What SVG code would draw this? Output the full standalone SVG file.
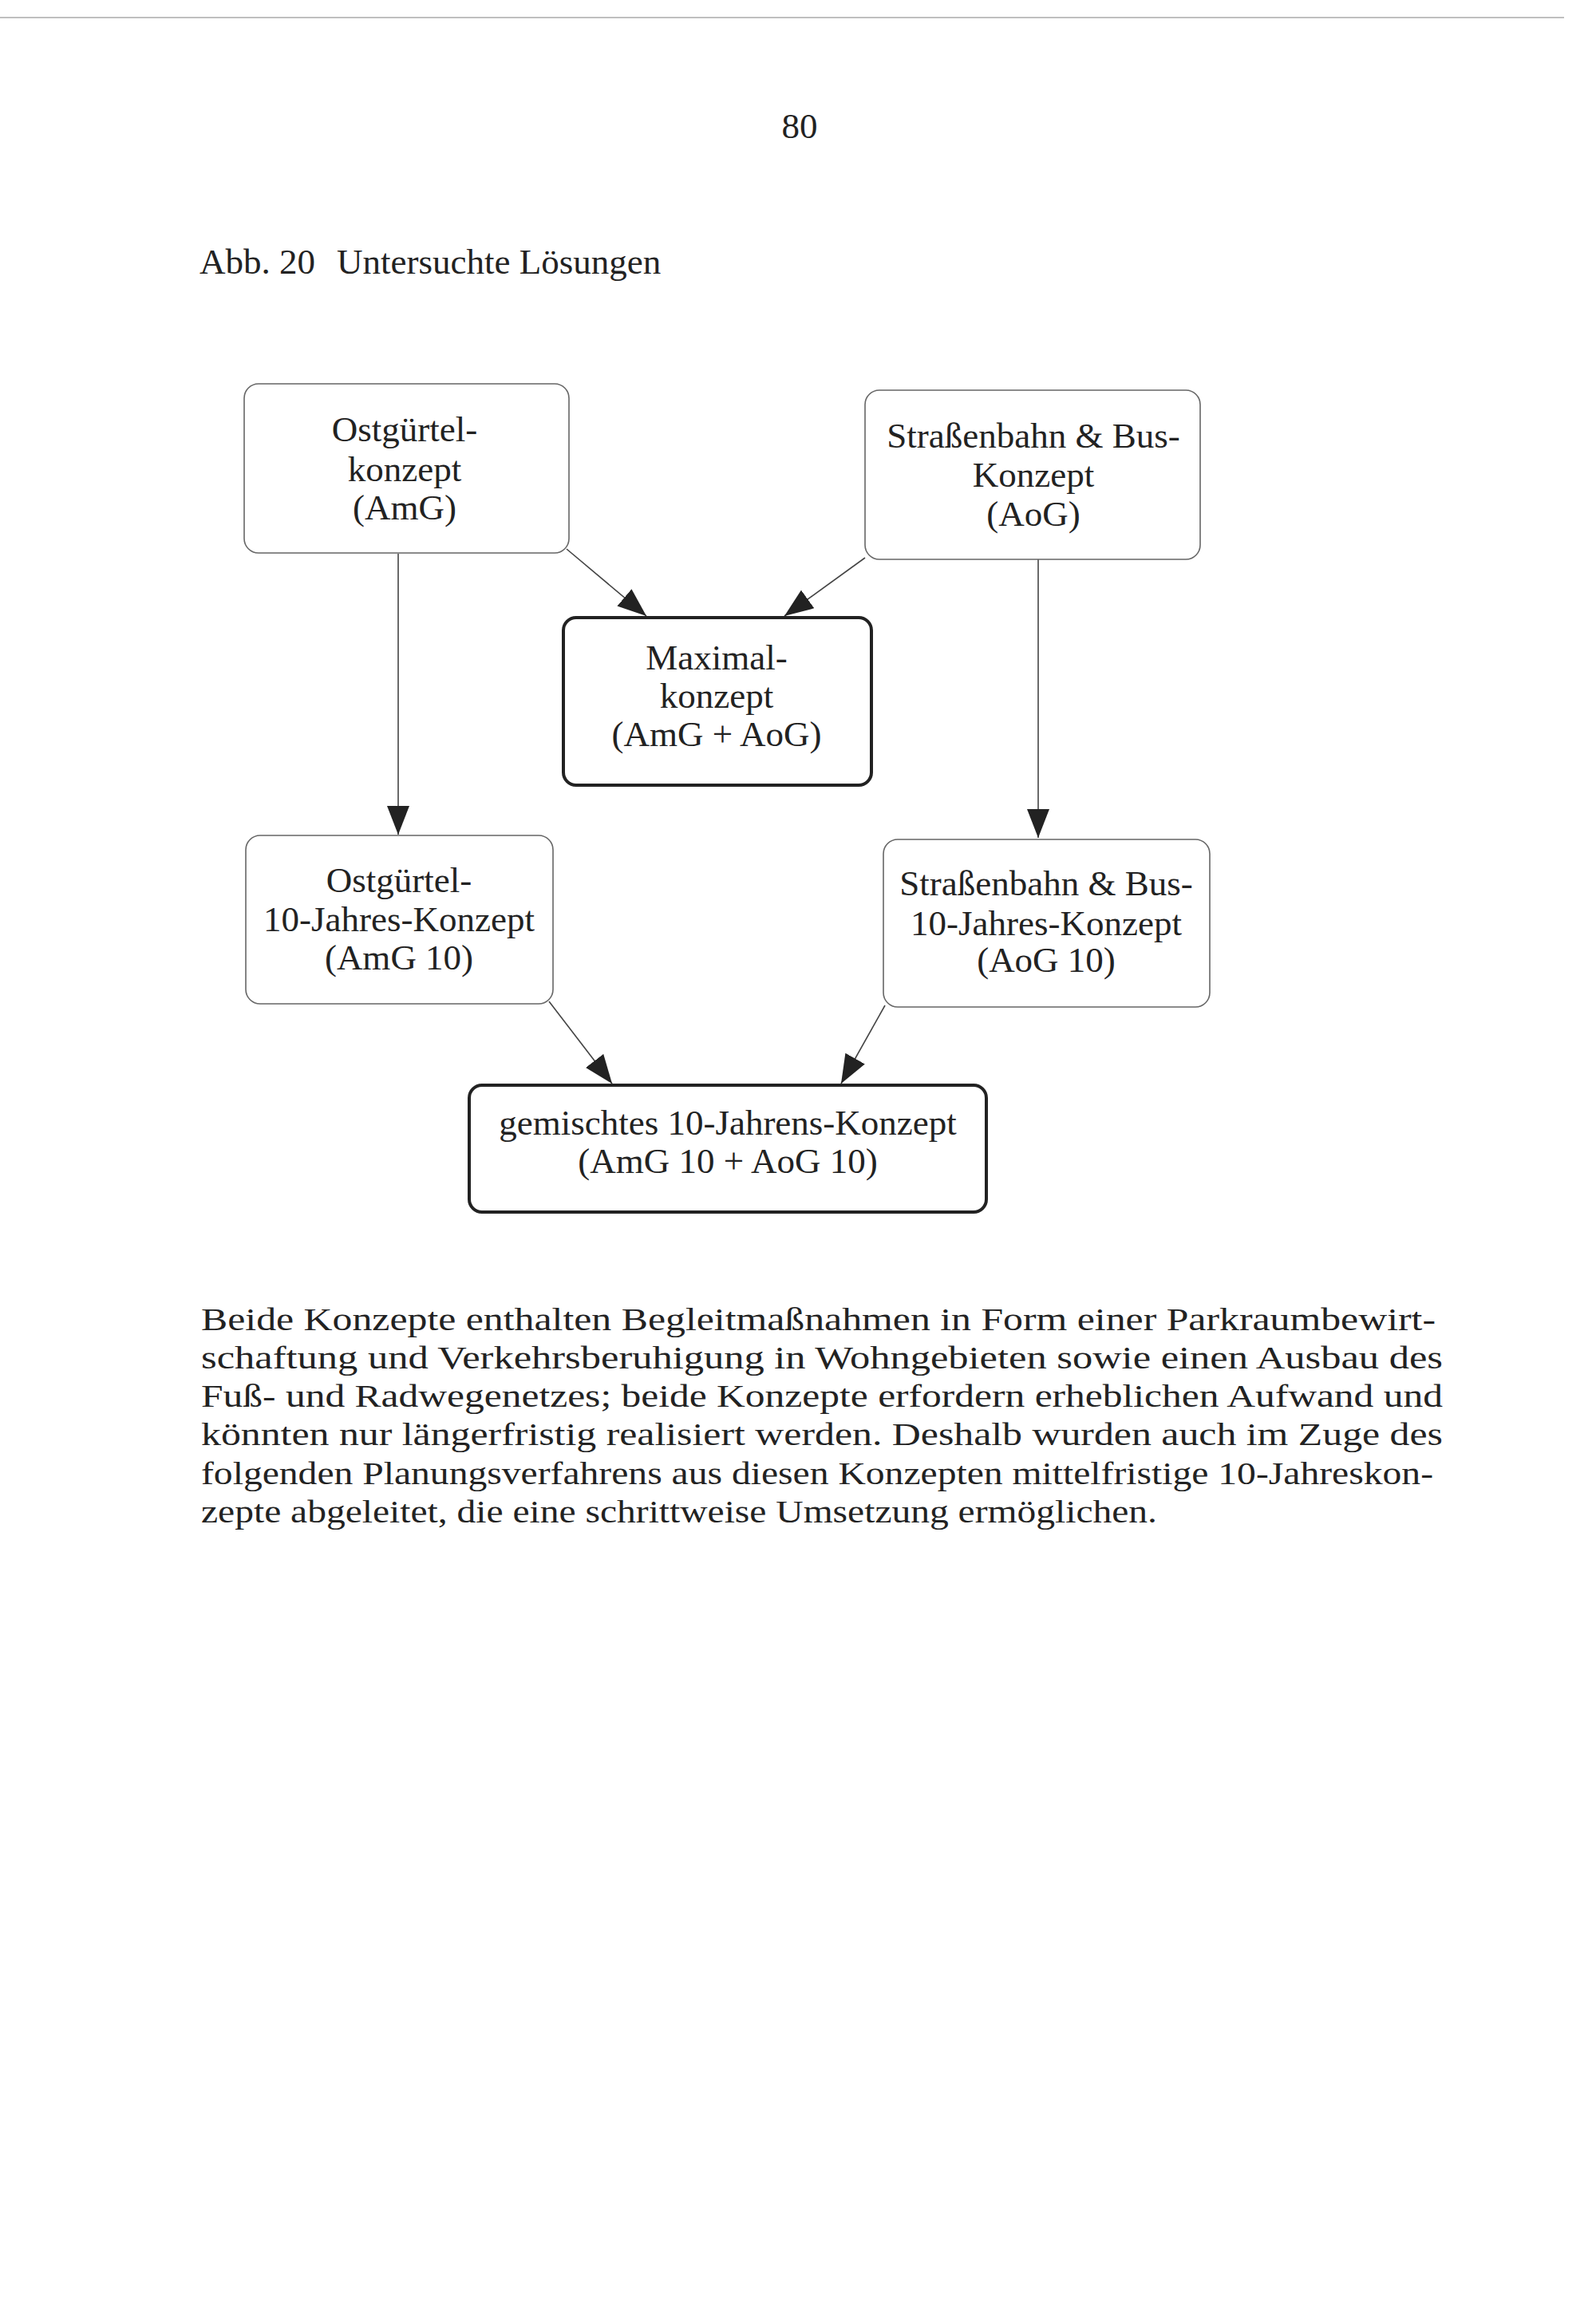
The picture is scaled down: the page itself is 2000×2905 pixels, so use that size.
<svg xmlns="http://www.w3.org/2000/svg" width="2000" height="2905" viewBox="0 0 2000 2905">
<style>
  .t { font-family: "Liberation Serif", "Times New Roman", serif; fill: #222; }
  .box { font-size: 45px; text-anchor: middle; }
  .body { font-size: 41px; }
  .thin { fill: #fff; stroke: #666; stroke-width: 1.6; }
  .thick { fill: #fff; stroke: #222; stroke-width: 4; }
  .conn { stroke: #444; stroke-width: 1.6; fill: none; marker-end: url(#arrow); }
</style>
<defs>
  <marker id="arrow" markerUnits="userSpaceOnUse" viewBox="0 0 36 28" markerWidth="36" markerHeight="28" refX="36" refY="14" orient="auto">
    <path d="M0,0 L36,14 L0,28 Z" fill="#222"/>
  </marker>
</defs>
<rect width="2000" height="2905" fill="#fff"/>
<line x1="0" y1="22" x2="1960" y2="22" stroke="#aaa" stroke-width="1.5"/>
<text class="t" x="1002" y="173" font-size="45" text-anchor="middle">80</text>
<text class="t" x="250" y="343" font-size="45">Abb. 20</text>
<text class="t" x="422" y="343" font-size="45">Untersuchte Lösungen</text>

<g id="connectors">
  <line class="conn" x1="499" y1="694" x2="499" y2="1046"/>
  <line class="conn" x1="1301" y1="701" x2="1301" y2="1050"/>
  <line class="conn" x1="710" y1="688" x2="810" y2="772"/>
  <line class="conn" x1="1084" y1="699" x2="983" y2="772"/>
  <line class="conn" x1="688" y1="1255" x2="767" y2="1358"/>
  <line class="conn" x1="1109" y1="1260" x2="1054" y2="1358"/>
</g>

<g id="node-amg">
  <rect class="thin" x="306" y="481" width="407" height="212" rx="18"/>
  <text class="t box" x="507" y="553">Ostgürtel-</text>
  <text class="t box" x="507" y="603">konzept</text>
  <text class="t box" x="507" y="651">(AmG)</text>
</g>
<g id="node-aog">
  <rect class="thin" x="1084" y="489" width="420" height="212" rx="18"/>
  <text class="t box" x="1295" y="561">Straßenbahn &amp; Bus-</text>
  <text class="t box" x="1295" y="610">Konzept</text>
  <text class="t box" x="1295" y="659">(AoG)</text>
</g>
<g id="node-maximal">
  <rect class="thick" x="706" y="774" width="386" height="210" rx="16"/>
  <text class="t box" x="898" y="839">Maximal-</text>
  <text class="t box" x="898" y="887">konzept</text>
  <text class="t box" x="898" y="935">(AmG + AoG)</text>
</g>
<g id="node-amg10">
  <rect class="thin" x="308" y="1047" width="385" height="211" rx="18"/>
  <text class="t box" x="500" y="1118">Ostgürtel-</text>
  <text class="t box" x="500" y="1167">10-Jahres-Konzept</text>
  <text class="t box" x="500" y="1215">(AmG 10)</text>
</g>
<g id="node-aog10">
  <rect class="thin" x="1107" y="1052" width="409" height="210" rx="18"/>
  <text class="t box" x="1311" y="1122">Straßenbahn &amp; Bus-</text>
  <text class="t box" x="1311" y="1172">10-Jahres-Konzept</text>
  <text class="t box" x="1311" y="1218">(AoG 10)</text>
</g>
<g id="node-gemischt">
  <rect class="thick" x="588" y="1360" width="648" height="159" rx="16"/>
  <text class="t box" x="912" y="1422">gemischtes 10-Jahrens-Konzept</text>
  <text class="t box" x="912" y="1470">(AmG 10 + AoG 10)</text>
</g>

<g id="body-text">
  <text class="t body" x="252" y="1667" textLength="1547" lengthAdjust="spacingAndGlyphs">Beide Konzepte enthalten Begleitmaßnahmen in Form einer Parkraumbewirt-</text>
  <text class="t body" x="252" y="1715" textLength="1556" lengthAdjust="spacingAndGlyphs">schaftung und Verkehrsberuhigung in Wohngebieten sowie einen Ausbau des</text>
  <text class="t body" x="252" y="1763" textLength="1556" lengthAdjust="spacingAndGlyphs">Fuß- und Radwegenetzes; beide Konzepte erfordern erheblichen Aufwand und</text>
  <text class="t body" x="252" y="1811" textLength="1556" lengthAdjust="spacingAndGlyphs">könnten nur längerfristig realisiert werden. Deshalb wurden auch im Zuge des</text>
  <text class="t body" x="252" y="1860" textLength="1544" lengthAdjust="spacingAndGlyphs">folgenden Planungsverfahrens aus diesen Konzepten mittelfristige 10-Jahreskon-</text>
  <text class="t body" x="252" y="1908" textLength="1198" lengthAdjust="spacingAndGlyphs">zepte abgeleitet, die eine schrittweise Umsetzung ermöglichen.</text>
</g>
</svg>
